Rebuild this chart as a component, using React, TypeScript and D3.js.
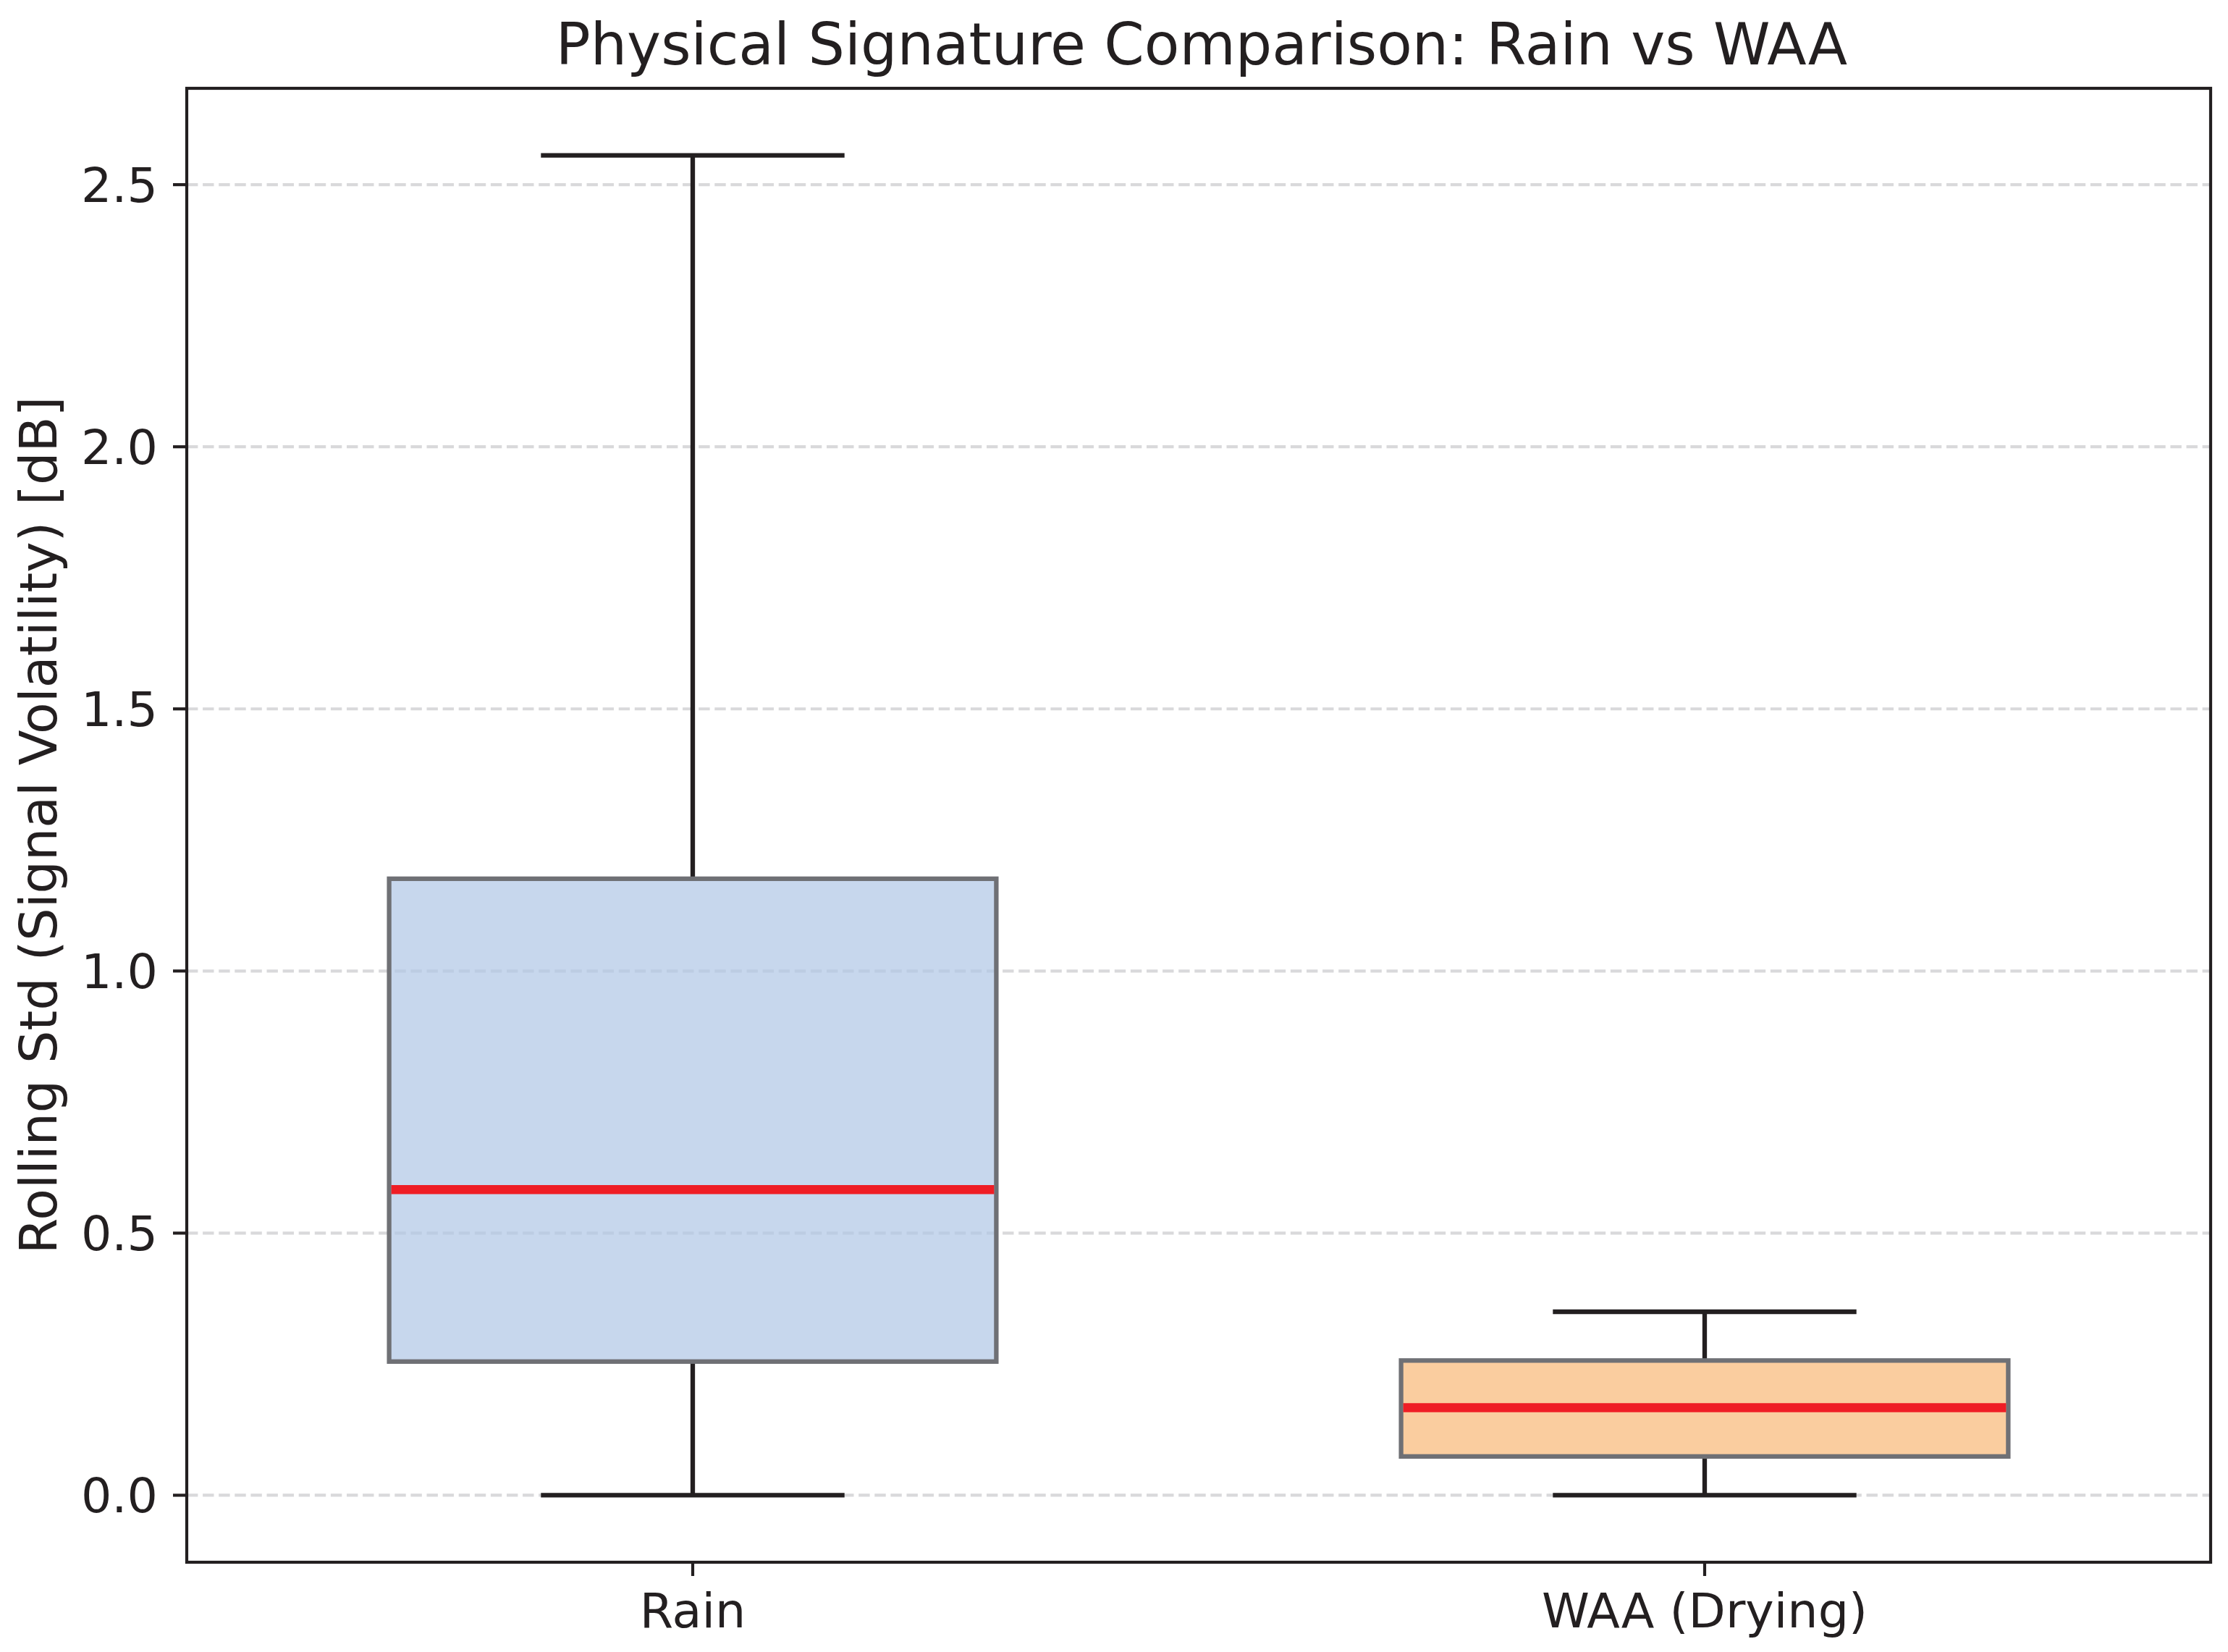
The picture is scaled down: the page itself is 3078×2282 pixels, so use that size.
import React, { useEffect } from "react";
import * as d3 from "d3";

const categories = ["Rain", "WAA (Drying)"];
const whiskerLow = [0.0, 0.0];
const q1 = [0.255, 0.074];
const median = [0.583, 0.167];
const q3 = [1.176, 0.257];
const whiskerHigh = [2.556, 0.35];
const yTicks = [0.0, 0.5, 1.0, 1.5, 2.0, 2.5];
const boxFills = ["#afc6e5", "#f8b876"];

const W = 3078;
const H = 2282;
const left = 258;
const right = 3054;
const top = 122;
const bottom = 2158;
const ink = "#231f20";
const font = "'DejaVu Sans', sans-serif";

export default function App() {
  useEffect(() => {
    document.body.style.margin = "0";
  }, []);

  const dataMax = d3.max(whiskerHigh) as number;
  const dataMin = d3.min(whiskerLow) as number;
  const pad = (dataMax - dataMin) * 0.05;
  const y = d3.scaleLinear().domain([dataMin - pad, dataMax + pad]).range([bottom, top]);
  const x = d3.scaleLinear().domain([0.5, categories.length + 0.5]).range([left, right]);
  const boxHalf = 0.3;
  const capHalf = 0.15;

  return (
    <svg width={W} height={H} style={{ display: "block", background: "#fff" }} fontFamily={font}>
      <rect x={0} y={0} width={W} height={H} fill="#fff" />
      {/* grid */}
      <g>
        {yTicks.map((t) => (
          <line
            key={"g" + t}
            x1={left}
            x2={right}
            y1={y(t)}
            y2={y(t)}
            stroke="#d9d9db"
            strokeWidth={4.2}
            strokeDasharray="15.4 6.7"
          />
        ))}
      </g>
      {/* boxes */}
      {categories.map((c, i) => {
        const cx = x(i + 1);
        return (
          <g key={c}>
            <line x1={cx} x2={cx} y1={y(q3[i])} y2={y(whiskerHigh[i])} stroke={ink} strokeWidth={6.3} />
            <line x1={cx} x2={cx} y1={y(q1[i])} y2={y(whiskerLow[i])} stroke={ink} strokeWidth={6.3} />
            <rect
              x={x(i + 1 - boxHalf)}
              y={y(q3[i])}
              width={x(i + 1 + boxHalf) - x(i + 1 - boxHalf)}
              height={y(q1[i]) - y(q3[i])}
              fill={boxFills[i]}
              fillOpacity={0.7}
              stroke="#6f7075"
              strokeWidth={6.3}
            />
            <line
              x1={x(i + 1 - capHalf)}
              x2={x(i + 1 + capHalf)}
              y1={y(whiskerHigh[i])}
              y2={y(whiskerHigh[i])}
              stroke={ink}
              strokeWidth={6.3}
            />
            <line
              x1={x(i + 1 - capHalf)}
              x2={x(i + 1 + capHalf)}
              y1={y(whiskerLow[i])}
              y2={y(whiskerLow[i])}
              stroke={ink}
              strokeWidth={6.3}
            />
            <line
              x1={x(i + 1 - boxHalf) + 3}
              x2={x(i + 1 + boxHalf) - 3}
              y1={y(median[i])}
              y2={y(median[i])}
              stroke="#ef1d25"
              strokeWidth={12.5}
            />
          </g>
        );
      })}
      {/* spines */}
      <rect
        x={left}
        y={top}
        width={right - left}
        height={bottom - top}
        fill="none"
        stroke={ink}
        strokeWidth={4.2}
      />
      {/* y ticks */}
      {yTicks.map((t) => (
        <g key={"yt" + t}>
          <line x1={left - 19} x2={left} y1={y(t)} y2={y(t)} stroke={ink} strokeWidth={4.2} />
          <text
            x={218}
            y={y(t)}
            dy="0.36em"
            textAnchor="end"
            fontSize={66.7}
            fill={ink}
          >
            {d3.format(".1f")(t)}
          </text>
        </g>
      ))}
      {/* x ticks */}
      {categories.map((c, i) => (
        <g key={"xt" + c}>
          <line x1={x(i + 1)} x2={x(i + 1)} y1={bottom} y2={bottom + 19} stroke={ink} strokeWidth={4.2} />
          <text x={x(i + 1)} y={2248} textAnchor="middle" fontSize={66.7} fill={ink}>
            {c}
          </text>
        </g>
      ))}
      {/* y label */}
      <text
        transform={`translate(78.3, ${(top + bottom) / 2}) rotate(-90)`}
        textAnchor="middle"
        fontSize={71.5}
        fill={ink}
      >
        Rolling Std (Signal Volatility) [dB]
      </text>
      {/* title */}
      <text x={1660} y={89.3} textAnchor="middle" fontSize={79.5} fill={ink}>
        Physical Signature Comparison: Rain vs WAA
      </text>
    </svg>
  );
}
